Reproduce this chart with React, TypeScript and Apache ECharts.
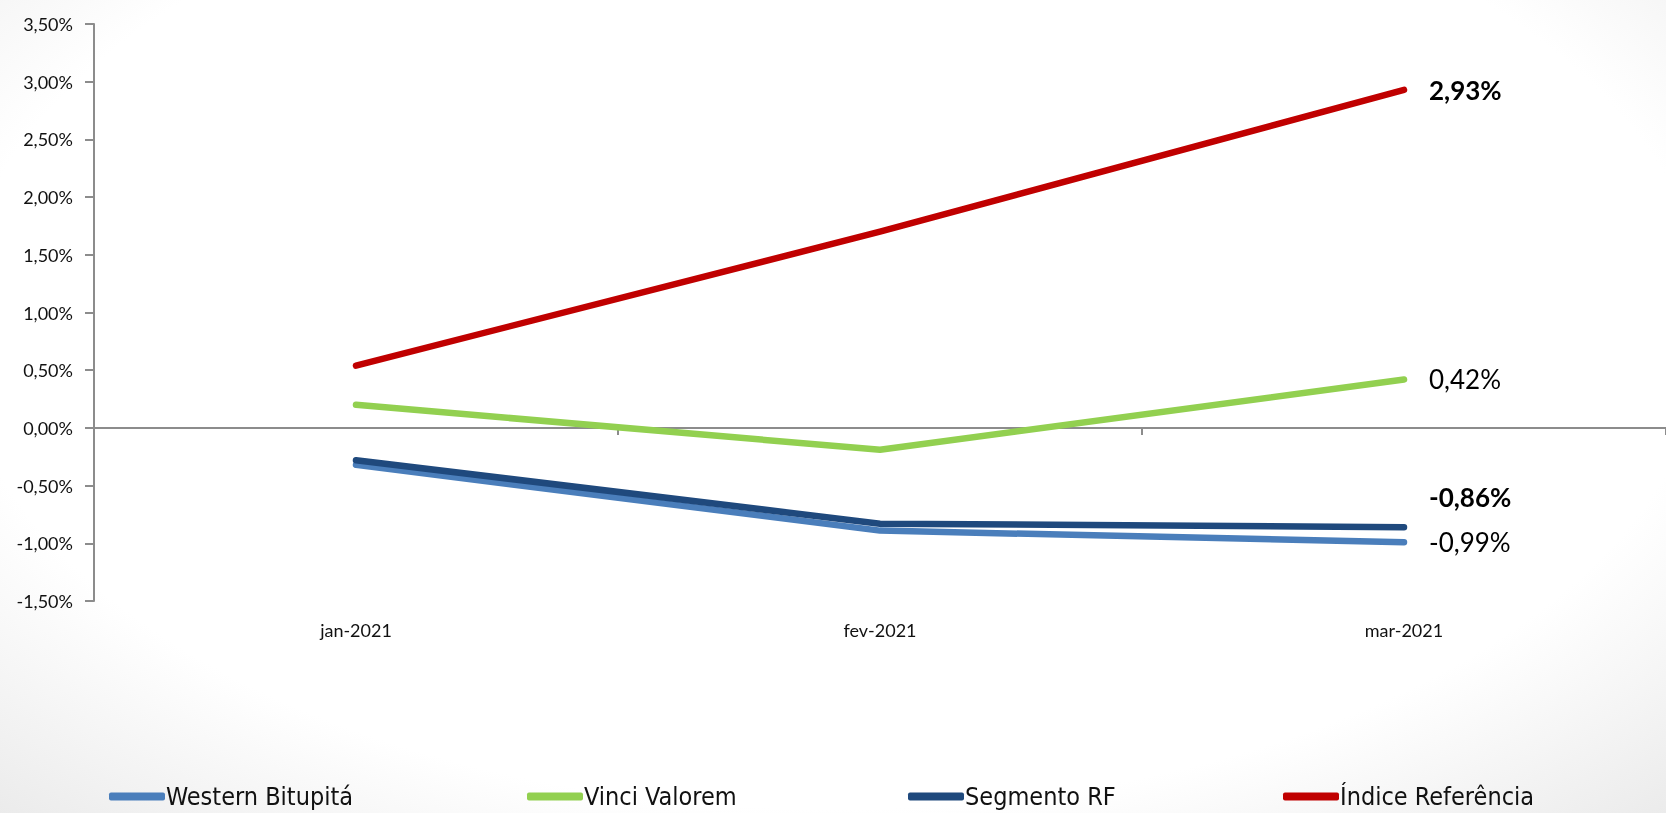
import React, { useEffect, useRef } from "react";
import * as echarts from "echarts";

const categories = ["jan-2021", "fev-2021", "mar-2021"];
const seriesNames = ["Western Bitupitá", "Vinci Valorem", "Segmento RF", "Índice Referência"];
const western = [-0.32, -0.89, -0.99];
const vinci = [0.2, -0.19, 0.42];
const segmento = [-0.28, -0.83, -0.86];
const indice = [0.54, 1.7, 2.93];
const yTicks = { min: -1.5, max: 3.5, interval: 0.5 };

const colors = ["#4a7ebb", "#92d050", "#1f497d", "#c00000"];
const boldLabel = [false, false, true, true];
const labelOffsetY = [0, 0, -30, 0];
const legendLeft = [104, 522, 903, 1278];

const fmt = (v: number) => v.toFixed(2).replace(".", ",") + "%";
const FONT = "Lato, 'Open Sans', sans-serif";

export default function App() {
  const ref = useRef<HTMLDivElement>(null);
  useEffect(() => {
    if (!ref.current) return;
    const chart = echarts.init(ref.current, undefined, { renderer: "svg" });
    const data = [western, vinci, segmento, indice];
    chart.setOption({
      animation: false,
      grid: { left: 94, right: -2, top: 24, bottom: 212, containLabel: false },
      xAxis: [
        {
          type: "category",
          data: categories,
          position: "bottom",
          axisLine: { show: false, onZero: false },
          axisTick: { show: false },
          axisLabel: { fontFamily: FONT, fontSize: 18, color: "#111", margin: 20 },
        },
        {
          type: "category",
          data: categories,
          position: "top",
          axisLine: { show: true, onZero: true, lineStyle: { color: "#8c8c8c", width: 2 } },
          axisTick: { show: true, inside: true, length: 7, lineStyle: { color: "#8c8c8c", width: 2 } },
          axisLabel: { show: false },
        },
      ],
      yAxis: {
        type: "value",
        min: yTicks.min,
        max: yTicks.max,
        interval: yTicks.interval,
        axisLine: { show: true, lineStyle: { color: "#8c8c8c", width: 2 } },
        axisTick: { show: true, length: 9, lineStyle: { color: "#8c8c8c", width: 2 } },
        splitLine: { show: false },
        axisLabel: { fontFamily: FONT, fontSize: 18, color: "#111", margin: 21, formatter: (v: number) => fmt(v) },
      },
      legend: seriesNames.map((n, i) => ({
        data: [n],
        left: legendLeft[i],
        top: 779,
        icon: "roundRect",
        itemWidth: 56,
        itemHeight: 8,
        itemGap: 0,
        textStyle: {
          fontFamily: "'Liberation Sans Narrow', 'DejaVu Sans Condensed', sans-serif",
          fontSize: 25,
          color: "#111",
          padding: [0, 0, 0, -4],
        },
      })),
      series: seriesNames.map((n, i) => ({
        name: n,
        type: "line",
        data: data[i],
        color: colors[i],
        showSymbol: false,
        symbol: "none",
        lineStyle: { width: 6.5, color: colors[i], cap: "round", join: "round" },
        itemStyle: { color: colors[i] },
        emphasis: { disabled: true },
        endLabel: {
          show: true,
          distance: 25,
          offset: [0, labelOffsetY[i]],
          formatter: (p: any) => fmt(p.value),
          fontFamily: FONT,
          fontSize: 26,
          fontWeight: boldLabel[i] ? "bold" : "normal",
          color: "#000",
        },
      })),
    });
    return () => chart.dispose();
  }, []);
  return (
    <div
      style={{
        position: "fixed",
        left: 0,
        top: 0,
        width: 1666,
        height: 813,
        background: "radial-gradient(ellipse 75% 85% at 50% 40%, #ffffff 70%, #e9e9e9 100%)",
      }}
    >
      <div ref={ref} style={{ width: 1666, height: 813 }} />
    </div>
  );
}
